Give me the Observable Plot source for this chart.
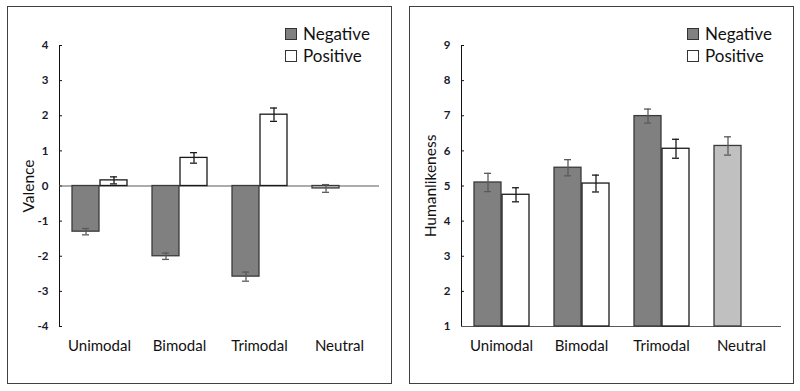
<!DOCTYPE html>
<html>
<head>
<meta charset="utf-8">
<script src="https://cdn.jsdelivr.net/npm/d3@7"></script>
<script src="https://cdn.jsdelivr.net/npm/@observablehq/plot@0.6"></script>
<style>
  html, body { margin: 0; padding: 0; background: #fff; }
  body { width: 800px; height: 391px; position: relative; font-family: Lato, "Open Sans", sans-serif; }
  .panel { position: absolute; box-sizing: border-box; border: 1px solid #404040; background: #fff; }
  .panel svg { display: block; }
  .legend { position: absolute; font-size: 17px; color: #111; line-height: 22px; }
  .legend .row { display: flex; align-items: center; height: 22px; }
  .legend .sw { width: 10px; height: 10px; border: 1px solid #333; margin-right: 6px; }
  g[aria-label="fx-axis tick label"], g[aria-label="fx-axis tick label"] text { font-size: 15px !important; fill: #111; }
  g[aria-label="y-axis tick label"], g[aria-label="y-axis tick label"] text { font-size: 11.5px !important; font-weight: bold; fill: #1a1a2e; }
  g[aria-label="y-axis label"], g[aria-label="y-axis label"] text { font-size: 15.5px !important; fill: #111; }
</style>
</head>
<body>
<script>
// ---- data ----
const categories = ["Unimodal", "Bimodal", "Trimodal", "Neutral"];
const series = ["Negative", "Positive"];

const valenceNegative = [-1.3, -2.0, -2.58, -0.07];
const valenceNegativeErr = [0.09, 0.09, 0.13, 0.11];
const valencePositive = [0.16, 0.8, 2.03, null];
const valencePositiveErr = [0.1, 0.15, 0.19, null];

const humanNegative = [5.1, 5.52, 6.99, 6.14];
const humanNegativeErr = [0.26, 0.23, 0.2, 0.26];
const humanPositive = [4.75, 5.07, 6.06, null];
const humanPositiveErr = [0.2, 0.24, 0.27, null];

const valenceTicks = [-4, -3, -2, -1, 0, 1, 2, 3, 4];
const humanTicks = [1, 2, 3, 4, 5, 6, 7, 8, 9];

const seriesFill = {Negative: "#808080", Positive: "#ffffff"};
const seriesStroke = {Negative: "#3a3a3a", Positive: "#1a1a1a"};
const errColor = {Negative: "#5a5a5a", Positive: "#1a1a1a"};
const neutralFill = "#c0c0c0";

function buildRows(neg, negErr, pos, posErr) {
  const rows = [];
  categories.forEach((c, i) => {
    if (neg[i] != null) rows.push({category: c, series: "Negative", value: neg[i], err: negErr[i]});
    if (pos[i] != null) rows.push({category: c, series: "Positive", value: pos[i], err: posErr[i]});
  });
  return rows;
}

function makeChart({rows, ticks, base, label}) {
  const fill = d => d.category === "Neutral" ? neutralFill : seriesFill[d.series];
  return Plot.plot({
    width: 383,
    height: 376,
    marginLeft: 50,
    marginRight: 12,
    marginTop: 38,
    marginBottom: 57,
    style: {fontFamily: "Lato, 'Open Sans', sans-serif", background: "white", color: "#111", overflow: "visible"},
    fx: {domain: categories, padding: 0, label: null, tickSize: 0, tickPadding: 14},
    x: {domain: series, axis: null, paddingInner: 0.05, paddingOuter: 0.45},
    y: {domain: [ticks[0], ticks[ticks.length - 1]], ticks: ticks, tickFormat: d => String(d),
        tickSize: -3, tickPadding: 14, line: true,
        label, labelAnchor: "center", labelOffset: 37, labelArrow: "none"},
    marks: [
      Plot.ruleY([base], {stroke: "#5a5a5a", strokeWidth: 1.2}),
      Plot.barY(rows, {fx: "category", x: "series", y1: base, y2: "value",
        fill, stroke: d => seriesStroke[d.series], strokeWidth: 1.3}),
      Plot.ruleX(rows, {fx: "category", x: "series", y1: d => d.value - d.err, y2: d => d.value + d.err,
        stroke: d => errColor[d.series], strokeWidth: 1.3}),
      Plot.tickY(rows, {fx: "category", x: "series", y: d => d.value - d.err, insetLeft: 10, insetRight: 10,
        stroke: d => errColor[d.series], strokeWidth: 1.3}),
      Plot.tickY(rows, {fx: "category", x: "series", y: d => d.value + d.err, insetLeft: 10, insetRight: 10,
        stroke: d => errColor[d.series], strokeWidth: 1.3})
    ]
  });
}

function makeLegend() {
  const lg = document.createElement("div");
  lg.className = "legend";
  series.forEach(s => {
    const row = document.createElement("div");
    row.className = "row";
    const sw = document.createElement("span");
    sw.className = "sw";
    sw.style.background = seriesFill[s];
    const t = document.createElement("span");
    t.textContent = s;
    row.appendChild(sw);
    row.appendChild(t);
    lg.appendChild(row);
  });
  return lg;
}

function addPanel(left, chart) {
  const p = document.createElement("div");
  p.className = "panel";
  p.style.left = left + "px";
  p.style.top = "6px";
  p.style.width = "385px";
  p.style.height = "378px";
  p.appendChild(chart);
  const lg = makeLegend();
  lg.style.left = "277px";
  lg.style.top = "16px";
  p.appendChild(lg);
  document.body.appendChild(p);
}

addPanel(7, makeChart({
  rows: buildRows(valenceNegative, valenceNegativeErr, valencePositive, valencePositiveErr),
  ticks: valenceTicks, base: 0, label: "Valence"
}));
addPanel(409, makeChart({
  rows: buildRows(humanNegative, humanNegativeErr, humanPositive, humanPositiveErr),
  ticks: humanTicks, base: humanTicks[0], label: "Humanlikeness"
}));
</script>
</body>
</html>
